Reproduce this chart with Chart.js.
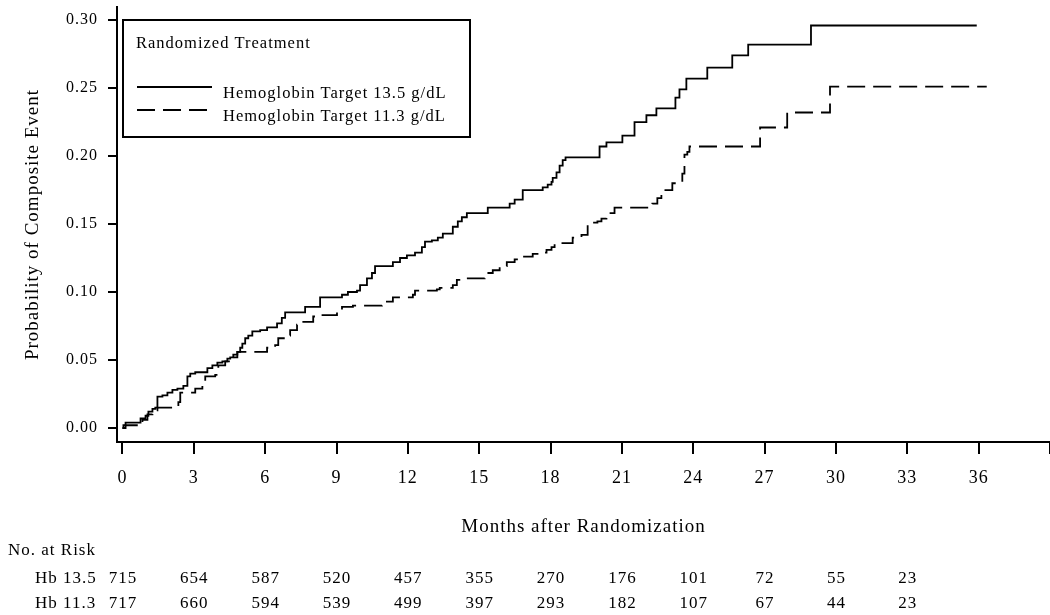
<!DOCTYPE html>
<html>
<head>
<meta charset="utf-8">
<title>Probability of Composite Event by Hemoglobin Target</title>
<script src="https://cdn.jsdelivr.net/npm/chart.js@4/dist/chart.umd.min.js"></script>
<style>
  html, body { margin: 0; padding: 0; background: #fff; }
  #wrap { width: 1050px; height: 615px; position: relative; }
</style>
</head>
<body>
<div id="wrap"><canvas id="km" width="1050" height="615"></canvas></div>
<script>
// Kaplan-Meier style cumulative event curves (months, cumulative probability at each step)
const hb135Months = [0, 0.04, 0.13, 0.76, 0.97, 1.09, 1.26, 1.38, 1.47, 1.68,
  1.89, 2.10, 2.31, 2.56, 2.73, 2.85, 3.06, 3.57, 3.78, 3.99,
  4.20, 4.41, 4.53, 4.66, 4.83, 4.95, 5.04, 5.16, 5.29, 5.46,
  5.79, 6.08, 6.50, 6.70, 6.84, 7.68, 8.31, 9.23, 9.48, 9.86,
  9.99, 10.28, 10.49, 10.62, 11.37, 11.67, 11.96, 12.30, 12.59, 12.72,
  13.01, 13.26, 13.47, 13.89, 14.10, 14.27, 14.48, 15.36, 16.28, 16.49,
  16.83, 17.67, 17.88, 18.04, 18.09, 18.25, 18.38, 18.51, 18.63, 20.06,
  20.35, 21.02, 21.53, 22.03, 22.45, 23.25, 23.42, 23.71, 24.59, 25.64,
  26.31, 28.95, 35.92];
const hb135Prob = [0, 0.002, 0.004, 0.007, 0.009, 0.012, 0.014, 0.015, 0.023, 0.024,
  0.026, 0.028, 0.029, 0.031, 0.038, 0.040, 0.041, 0.044, 0.046, 0.048,
  0.049, 0.051, 0.052, 0.054, 0.056, 0.059, 0.062, 0.066, 0.068, 0.071,
  0.072, 0.074, 0.077, 0.081, 0.085, 0.089, 0.096, 0.098, 0.100, 0.101,
  0.105, 0.110, 0.114, 0.119, 0.122, 0.125, 0.127, 0.129, 0.133, 0.137,
  0.138, 0.140, 0.143, 0.148, 0.152, 0.155, 0.158, 0.162, 0.165, 0.168,
  0.175, 0.177, 0.179, 0.181, 0.184, 0.188, 0.193, 0.197, 0.199, 0.207,
  0.210, 0.215, 0.225, 0.230, 0.235, 0.243, 0.249, 0.257, 0.265, 0.274,
  0.282, 0.296, 0.296];

const hb113Months = [0, 0.13, 0.84, 1.05, 1.26, 1.47, 2.35, 2.43, 3.06, 3.36,
  3.48, 3.90, 4.03, 4.32, 4.53, 4.83, 6.08, 6.42, 6.55, 6.92,
  7.05, 7.34, 7.55, 8.02, 8.18, 9.02, 9.23, 9.69, 10.91, 11.37,
  12.21, 12.30, 13.22, 13.34, 13.89, 14.06, 14.48, 15.23, 15.57, 15.86,
  16.16, 16.49, 16.83, 17.25, 17.62, 17.83, 18.04, 18.17, 18.93, 19.30,
  19.56, 19.97, 20.14, 20.35, 20.69, 22.28, 22.49, 22.66, 23.12, 23.54,
  23.63, 23.75, 23.84, 26.81, 27.95, 29.75, 36.34];
const hb113Prob = [0, 0.002, 0.006, 0.010, 0.013, 0.015, 0.019, 0.026, 0.029, 0.034,
  0.038, 0.039, 0.046, 0.049, 0.052, 0.056, 0.059, 0.061, 0.066, 0.068,
  0.072, 0.076, 0.078, 0.082, 0.083, 0.085, 0.089, 0.090, 0.093, 0.096,
  0.098, 0.101, 0.102, 0.103, 0.105, 0.109, 0.110, 0.114, 0.116, 0.119,
  0.122, 0.124, 0.126, 0.128, 0.129, 0.131, 0.133, 0.136, 0.140, 0.142,
  0.151, 0.152, 0.154, 0.158, 0.162, 0.165, 0.169, 0.175, 0.180, 0.187,
  0.201, 0.203, 0.207, 0.221, 0.232, 0.251, 0.251];

// Axis ticks
const xTickValues = [0, 3, 6, 9, 12, 15, 18, 21, 24, 27, 30, 33, 36, 39];
const xTickLabels = ['0', '3', '6', '9', '12', '15', '18', '21', '24', '27', '30', '33', '36', ''];
const yTickValues = [0, 0.05, 0.10, 0.15, 0.20, 0.25, 0.30];
const yTickLabels = ['0.00', '0.05', '0.10', '0.15', '0.20', '0.25', '0.30'];

// Number at risk table
const riskMonths = [0, 3, 6, 9, 12, 15, 18, 21, 24, 27, 30, 33];
const riskHb135 = [715, 654, 587, 520, 457, 355, 270, 176, 101, 72, 55, 23];
const riskHb113 = [717, 660, 594, 539, 499, 397, 293, 182, 107, 67, 44, 23];
const riskRowLabels = ['Hb 13.5', 'Hb 11.3'];

const seriesLabels = ['Hemoglobin Target 13.5 g/dL', 'Hemoglobin Target 11.3 g/dL'];
const LEGEND_TITLE = 'Randomized Treatment';
const X_TITLE = 'Months after Randomization';
const Y_TITLE = 'Probability of Composite Event';
const RISK_TITLE = 'No. at Risk';

const SERIF = '"Liberation Serif", "Times New Roman", Times, serif';
const INK = '#000';

const toPoints = (months, probs) => months.map((m, i) => ({ x: m, y: probs[i] }));

// Slightly open letter spacing for all canvas text
const spacingPlugin = {
  id: 'spacing',
  beforeUpdate(chart) { chart.ctx.letterSpacing = '1px'; },
  beforeDraw(chart) { chart.ctx.letterSpacing = '1px'; }
};

// Boxed legend in the upper-left corner of the plot
const legendBox = {
  id: 'legendBox',
  afterDraw(chart) {
    const { ctx, chartArea } = chart;
    const x0 = chartArea.left + 6, y0 = chartArea.top + 13;
    ctx.save();
    ctx.strokeStyle = INK;
    ctx.lineWidth = 2;
    ctx.strokeRect(x0, y0, 347, 117);
    ctx.fillStyle = INK;
    ctx.font = '16.5px ' + SERIF;
    ctx.textAlign = 'left';
    ctx.textBaseline = 'alphabetic';
    ctx.fillText(LEGEND_TITLE, x0 + 13, y0 + 28);
    chart.data.datasets.forEach((ds, i) => {
      const ly = y0 + 67 + i * 23;
      ctx.beginPath();
      ctx.setLineDash(ds.borderDash || []);
      ctx.lineWidth = ds.borderWidth;
      ctx.strokeStyle = ds.borderColor;
      ctx.moveTo(x0 + 14, ly);
      ctx.lineTo(x0 + 89, ly);
      ctx.stroke();
      ctx.setLineDash([]);
      ctx.fillText(ds.label, x0 + 100, ly + 11);
    });
    ctx.restore();
  }
};

// Number-at-risk rows under the month axis
const riskTable = {
  id: 'riskTable',
  afterDraw(chart) {
    const { ctx } = chart;
    const xs = chart.scales.x;
    const rows = [riskHb135, riskHb113];
    ctx.save();
    ctx.fillStyle = INK;
    ctx.font = '17px ' + SERIF;
    ctx.textBaseline = 'alphabetic';
    ctx.textAlign = 'left';
    ctx.fillText(RISK_TITLE, 8, 555);
    rows.forEach((vals, r) => {
      const y = 583 + r * 25;
      ctx.textAlign = 'left';
      ctx.fillText(riskRowLabels[r], 35, y);
      ctx.textAlign = 'center';
      riskMonths.forEach((m, i) => {
        ctx.fillText(String(vals[i]), xs.getPixelForValue(m) + 0.5, y);
      });
    });
    ctx.restore();
  }
};

new Chart(document.getElementById('km'), {
  type: 'line',
  data: {
    datasets: [
      {
        label: seriesLabels[0],
        data: toPoints(hb135Months, hb135Prob),
        borderColor: INK,
        borderWidth: 1.8,
        stepped: true,
        pointRadius: 0,
        fill: false
      },
      {
        label: seriesLabels[1],
        data: toPoints(hb113Months, hb113Prob),
        borderColor: INK,
        borderWidth: 1.8,
        borderDash: [18, 8],
        stepped: true,
        pointRadius: 0,
        fill: false
      }
    ]
  },
  options: {
    responsive: false,
    animation: false,
    events: [],
    layout: { padding: { top: 7, right: 0, bottom: 73, left: 0 } },
    plugins: {
      legend: { display: false },
      tooltip: { enabled: false }
    },
    scales: {
      x: {
        type: 'linear',
        min: -0.23,
        max: 39.0,
        afterBuildTicks: (s) => { s.ticks = xTickValues.map(v => ({ value: v })); },
        afterFit: (s) => { s.height = 100; s.paddingLeft = 0; s.paddingRight = 0; },
        ticks: {
          callback: (v, i) => xTickLabels[i],
          autoSkip: false,
          maxRotation: 0,
          minRotation: 0,
          padding: 13,
          color: INK,
          font: { family: SERIF, size: 18 }
        },
        grid: { drawOnChartArea: false, drawTicks: true, tickLength: 12, color: INK, lineWidth: 2 },
        border: { display: true, color: INK, width: 2 },
        title: {
          display: true,
          text: X_TITLE,
          color: INK,
          font: { family: SERIF, size: 19 },
          padding: { top: 0, bottom: 4 }
        }
      },
      y: {
        type: 'linear',
        min: -0.0103,
        max: 0.3096,
        afterBuildTicks: (s) => { s.ticks = yTickValues.map(v => ({ value: v })); },
        afterFit: (s) => { s.width = 117; s.paddingTop = 0; s.paddingBottom = 0; },
        ticks: {
          callback: (v, i) => yTickLabels[i],
          padding: 10,
          color: INK,
          font: { family: SERIF, size: 16 }
        },
        grid: { drawOnChartArea: false, drawTicks: true, tickLength: 9, color: INK, lineWidth: 2 },
        border: { display: true, color: INK, width: 2 },
        title: {
          display: true,
          text: Y_TITLE,
          color: INK,
          font: { family: SERIF, size: 19 },
          padding: { top: 22, bottom: 0 }
        }
      }
    }
  },
  plugins: [spacingPlugin, legendBox, riskTable]
});
</script>
</body>
</html>
